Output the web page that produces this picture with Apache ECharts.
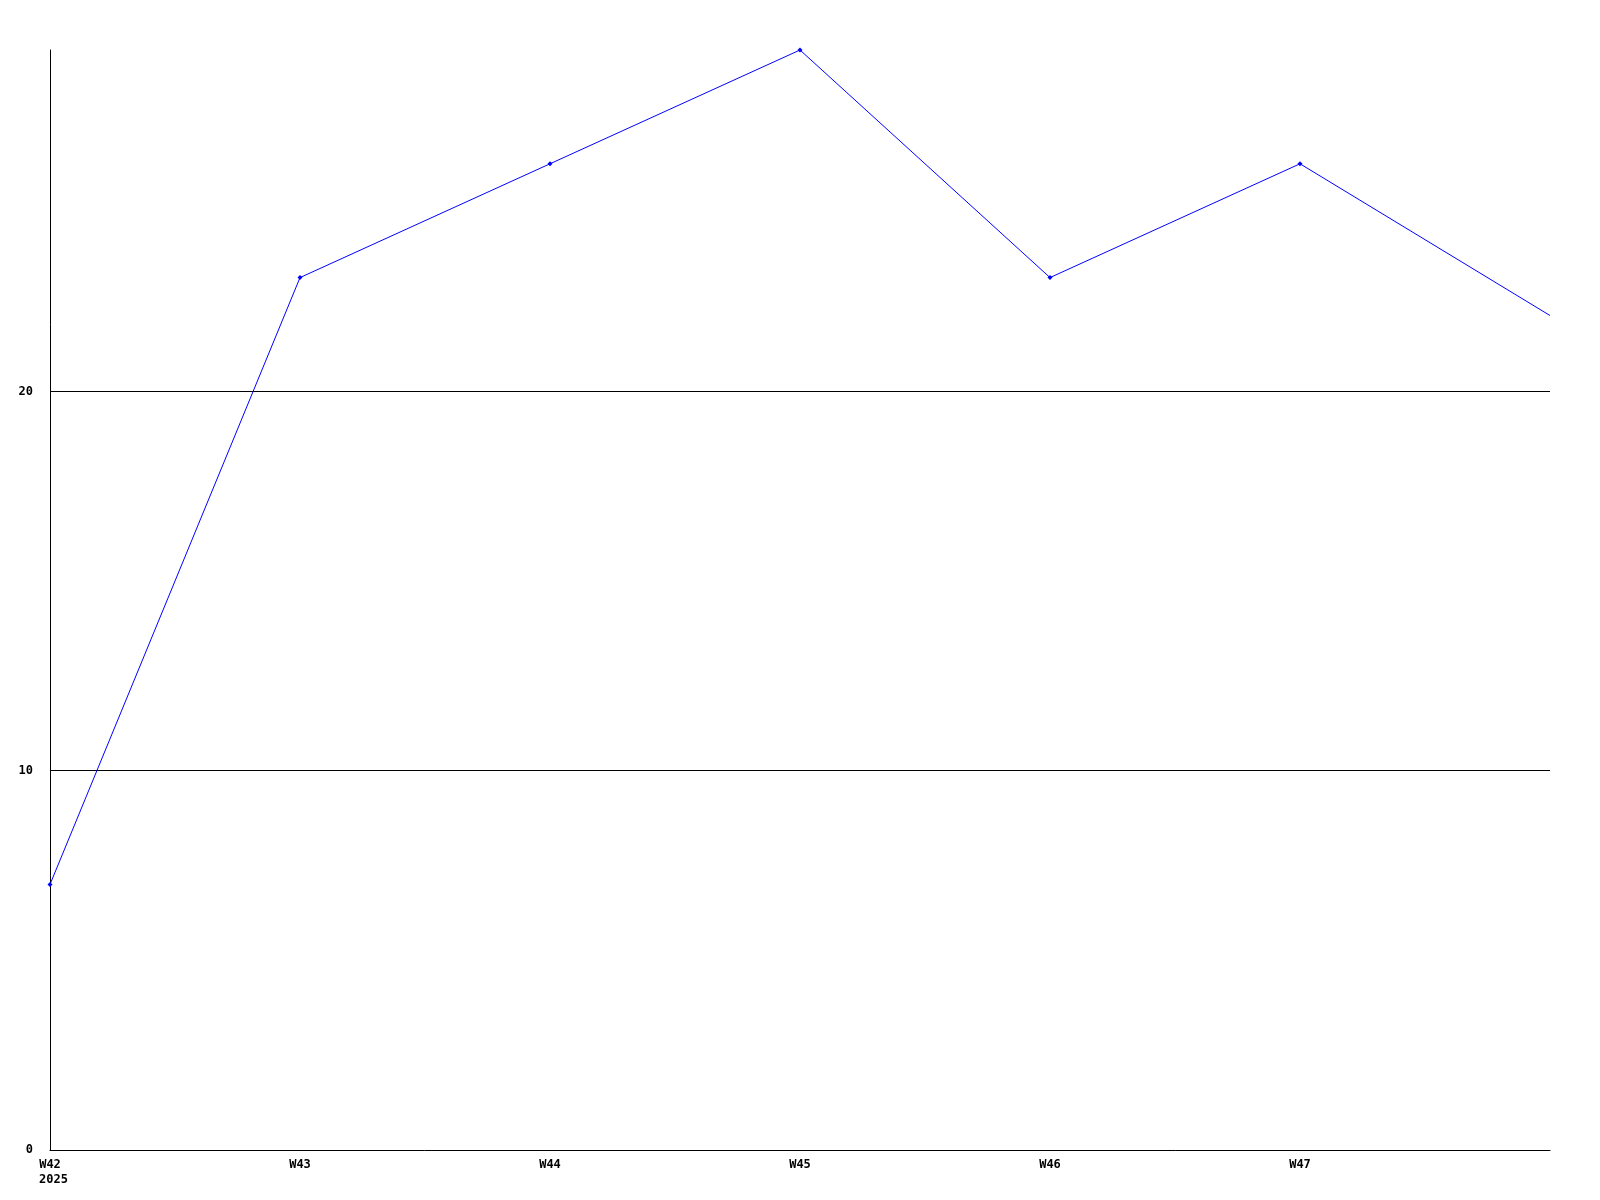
<!DOCTYPE html>
<html>
<head>
<meta charset="utf-8">
<script src="https://cdn.jsdelivr.net/npm/echarts@6/dist/echarts.min.js"></script>
<style>
html,body{margin:0;padding:0;background:#fff;}
#chart{width:1600px;height:1200px;}
</style>
</head>
<body>
<div id="chart"></div>
<script>
const weeks = ['W42', 'W43', 'W44', 'W45', 'W46', 'W47', 'W48'];
const weekLabels = ['{a|W42}\n{b|2025}', 'W43', 'W44', 'W45', 'W46', 'W47', ''];
const values = [7, 23, 26, 29, 23, 26, 22];
const yMin = 0, yMax = 29, yStep = 10;

const font = '"DejaVu Sans Mono", monospace';
const chart = echarts.init(document.getElementById('chart'), null, {renderer: 'canvas'});
const seriesData = values.map((v, i) => i === values.length - 1 ? {value: v, symbol: 'none'} : v);
chart.setOption({
  animation: false,
  backgroundColor: '#ffffff',
  grid: {left: 50, right: 50, top: 50, bottom: 50, containLabel: false},
  xAxis: {
    type: 'category',
    data: weeks,
    boundaryGap: false,
    axisLine: {show: true, onZero: false, lineStyle: {color: '#000', width: 1}},
    axisTick: {show: false},
    splitLine: {show: false},
    axisLabel: {
      show: true,
      interval: 0,
      margin: 7,
      color: '#000',
      fontFamily: font,
      fontWeight: 'bold',
      fontSize: 12,
      lineHeight: 15,
      formatter: (v, i) => weekLabels[i],
      rich: {
        a: {fontFamily: font, fontWeight: 'bold', fontSize: 12, lineHeight: 15, color: '#000'},
        b: {fontFamily: font, fontWeight: 'bold', fontSize: 12, lineHeight: 15, color: '#000', padding: [0, 0, 0, 7]}
      }
    }
  },
  yAxis: {
    type: 'value',
    min: yMin,
    max: yMax,
    interval: yStep,
    axisLine: {show: true, lineStyle: {color: '#000', width: 1}},
    axisTick: {show: false},
    splitLine: {show: true, showMinLine: false, showMaxLine: false, lineStyle: {color: '#000', width: 1}},
    axisLabel: {
      margin: 17,
      color: '#000',
      fontFamily: font,
      fontWeight: 'bold',
      fontSize: 12,
      showMaxLabel: false
    }
  },
  series: [{
    type: 'line',
    data: seriesData,
    symbol: 'diamond',
    symbolSize: 5,
    showSymbol: true,
    lineStyle: {color: '#0000ff', width: 1},
    itemStyle: {color: '#0000ff', borderWidth: 0},
    emphasis: {disabled: true}
  }]
});
</script>
</body>
</html>
